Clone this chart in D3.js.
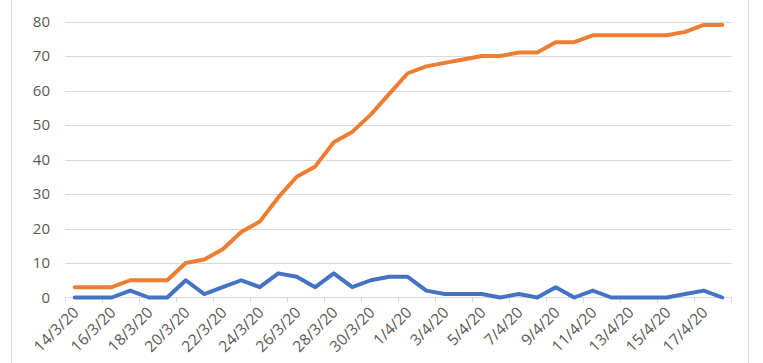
<!DOCTYPE html>
<html>
<head>
<meta charset="utf-8">
<script src="https://cdn.jsdelivr.net/npm/d3@7"></script>
<style>
  body { margin: 0; background: #fff; }
  text { font-family: "Open Sans", sans-serif; fill: #595959; }
</style>
</head>
<body>
<script>
var dates = ["14/3/20","15/3/20","16/3/20","17/3/20","18/3/20","19/3/20","20/3/20","21/3/20","22/3/20","23/3/20",
             "24/3/20","25/3/20","26/3/20","27/3/20","28/3/20","29/3/20","30/3/20","31/3/20","1/4/20","2/4/20",
             "3/4/20","4/4/20","5/4/20","6/4/20","7/4/20","8/4/20","9/4/20","10/4/20","11/4/20","12/4/20",
             "13/4/20","14/4/20","15/4/20","16/4/20","17/4/20","18/4/20"];
var blueValues = [0,0,0,2,0,0,5,1,3,5, 3,7,6,3,7,3,5,6,6,2, 1,1,1,0,1,0,3,0,2,0, 0,0,0,1,2,0];
var orangeValues = [3,3,3,5,5,5,10,11,14,19, 22,29,35,38,45,48,53,59,65,67, 68,69,70,70,71,71,74,74,76,76, 76,76,76,77,79,79];
var yTicks = [0,10,20,30,40,50,60,70,80];

var W = 763, H = 363;
var plotLeft = 65.5, plotRight = 731.5, plotTop = 21.5, plotBottom = 297.5;

var svg = d3.select("body").append("svg")
  .attr("width", W)
  .attr("height", H);

// chart border
svg.append("rect")
  .attr("x", 11.5).attr("y", -5)
  .attr("width", 737).attr("height", H + 10)
  .attr("fill", "none")
  .attr("stroke", "#d9d9d9");

var x = d3.scaleBand().domain(dates).range([plotLeft, plotRight]).padding(0);
var y = d3.scaleLinear().domain([0, 80]).range([plotBottom, plotTop]);

// gridlines
svg.selectAll(".grid").data(yTicks.filter(function(d){ return d > 0; }))
  .enter().append("line")
  .attr("x1", plotLeft).attr("x2", plotRight)
  .attr("y1", function(d){ return Math.round(y(d)) + 0.5; })
  .attr("y2", function(d){ return Math.round(y(d)) + 0.5; })
  .attr("stroke", "#d9d9d9").attr("stroke-width", 1);

// y labels
svg.selectAll(".ylab").data(yTicks)
  .enter().append("text")
  .attr("x", 50)
  .attr("y", function(d){ return y(d); })
  .attr("dy", "0.35em")
  .attr("text-anchor", "end")
  .style("font-size", "15px")
  .text(function(d){ return d; });

// x axis line and ticks
svg.append("line")
  .attr("x1", plotLeft).attr("x2", plotRight)
  .attr("y1", plotBottom).attr("y2", plotBottom)
  .attr("stroke", "#d9d9d9").attr("stroke-width", 1);

var tickDates = dates.filter(function(d, i){ return i % 2 === 0; });
svg.selectAll(".xtick").data(tickDates.concat(["end"]))
  .enter().append("line")
  .attr("x1", function(d){ return d === "end" ? plotRight : x(d); })
  .attr("x2", function(d){ return d === "end" ? plotRight : x(d); })
  .attr("y1", plotBottom).attr("y2", plotBottom + 5)
  .attr("stroke", "#d9d9d9");

svg.selectAll(".xlab").data(tickDates)
  .enter().append("text")
  .attr("transform", function(d){
    return "translate(" + (x(d) + x.bandwidth() / 2 + 5) + "," + (plotBottom + 16) + ") rotate(-45)";
  })
  .attr("text-anchor", "end")
  .style("font-size", "15.5px")
  .text(function(d){ return d; });

// lines
var line = d3.line()
  .x(function(d, i){ return x(dates[i]) + x.bandwidth() / 2; })
  .y(function(d){ return y(d); });

svg.append("path").datum(blueValues)
  .attr("d", line)
  .attr("fill", "none")
  .attr("stroke", "#4472c4")
  .attr("stroke-width", 4)
  .attr("stroke-linejoin", "round")
  .attr("stroke-linecap", "round");

svg.append("path").datum(orangeValues)
  .attr("d", line)
  .attr("fill", "none")
  .attr("stroke", "#ed7d31")
  .attr("stroke-width", 4)
  .attr("stroke-linejoin", "round")
  .attr("stroke-linecap", "round");
</script>
</body>
</html>
